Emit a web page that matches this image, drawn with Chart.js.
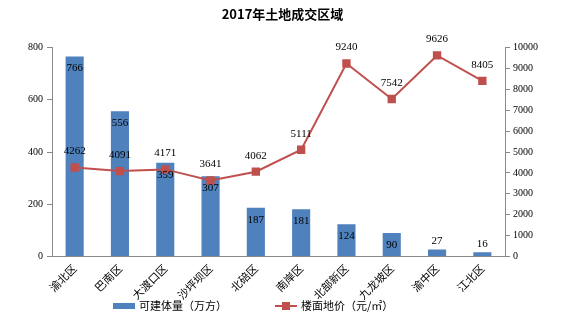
<!DOCTYPE html>
<html>
<head>
<meta charset="utf-8">
<script src="https://cdn.jsdelivr.net/npm/chart.js@4.4.0/dist/chart.umd.min.js"></script>
<style>
  html, body { margin: 0; padding: 0; background: #fff; }
  #wrap { width: 562px; height: 328px; }
</style>
</head>
<body>
<div id="wrap"><canvas id="chart" width="562" height="328"></canvas></div>
<script>
const districts = ['渝北区', '巴南区', '大渡口区', '沙坪坝区', '北碚区', '南岸区', '北部新区', '九龙坡区', '渝中区', '江北区'];
const volume = [766, 556, 359, 307, 187, 181, 124, 90, 27, 16];
const landPrice = [4262, 4091, 4171, 3641, 4062, 5111, 9240, 7542, 9626, 8405];
const leftTicks = [0, 200, 400, 600, 800];
const rightTicks = [0, 1000, 2000, 3000, 4000, 5000, 6000, 7000, 8000, 9000, 10000];

const numFont = '11px "Liberation Serif", "DejaVu Serif", serif';
const cnFont = '"Noto Sans CJK SC", sans-serif';
const barColor = '#4F81BD';
const lineColor = '#C0504D';

// value labels drawn over bars and points
const valueLabels = {
  id: 'valueLabels',
  afterDatasetsDraw(chart) {
    const ctx = chart.ctx;
    ctx.save();
    ctx.font = numFont;
    ctx.fillStyle = '#000';
    ctx.textAlign = 'center';
    ctx.textBaseline = 'middle';
    chart.data.datasets.forEach((ds, d) => {
      const meta = chart.getDatasetMeta(d);
      meta.data.forEach((el, i) => {
        if (ds.type === 'bar') {
          const h = el.base - el.y;
          const y = h > 20 ? el.y + 12 : el.y - 8;
          ctx.fillText(ds.data[i], el.x, y);
        } else {
          ctx.fillText(ds.data[i], el.x, el.y - 16);
        }
      });
    });
    ctx.restore();
  }
};

// legend drawn by hand so the two entries can sit far apart like the original
const bottomLegend = {
  id: 'bottomLegend',
  afterDraw(chart) {
    const ctx = chart.ctx;
    const y = 306;
    const items = chart.data.datasets.filter(ds => ds.type === 'bar').concat(chart.data.datasets.filter(ds => ds.type === 'line'));
    const starts = [113, 275];
    ctx.save();
    ctx.font = '11px ' + cnFont;
    ctx.textBaseline = 'middle';
    ctx.fillStyle = '#000';
    items.forEach((ds, k) => {
      const x = starts[k];
      if (ds.type === 'bar') {
        ctx.fillStyle = barColor;
        ctx.fillRect(x, y - 3, 22, 6);
      } else {
        ctx.strokeStyle = lineColor;
        ctx.lineWidth = 2;
        ctx.beginPath();
        ctx.moveTo(x, y);
        ctx.lineTo(x + 22, y);
        ctx.stroke();
        ctx.fillStyle = lineColor;
        ctx.fillRect(x + 7, y - 4, 8, 8);
      }
      ctx.fillStyle = '#000';
      ctx.fillText(ds.label, x + 26, y);
    });
    ctx.restore();
  }
};

new Chart(document.getElementById('chart'), {
  data: {
    labels: districts,
    datasets: [
      {
        type: 'line',
        label: '楼面地价（元/㎡）',
        data: landPrice,
        yAxisID: 'y1',
        borderColor: lineColor,
        backgroundColor: lineColor,
        borderWidth: 2,
        pointStyle: 'rect',
        pointRadius: 4.5,
        pointBackgroundColor: lineColor,
        pointBorderColor: lineColor,
        order: 0
      },
      {
        type: 'bar',
        label: '可建体量（万方）',
        data: volume,
        yAxisID: 'y',
        backgroundColor: barColor,
        categoryPercentage: 1,
        barPercentage: 0.4,
        order: 1
      }
    ]
  },
  options: {
    responsive: false,
    animation: false,
    layout: { padding: { left: 24, right: 21, top: 0, bottom: 26 } },
    plugins: {
      title: {
        display: true,
        text: '2017年土地成交区域',
        color: '#000',
        font: { family: cnFont, size: 13, weight: 'bold' },
        padding: { top: 6, bottom: 26 }
      },
      legend: { display: false },
      tooltip: { enabled: false }
    },
    scales: {
      x: {
        grid: { display: false, drawTicks: true, tickLength: 5 },
        border: { color: '#888' },
        ticks: {
          color: '#000',
          font: { family: cnFont, size: 11 },
          minRotation: 45,
          maxRotation: 45,
          padding: 0
        }
      },
      y: {
        position: 'left',
        min: 0,
        max: 800,
        afterBuildTicks: axis => { axis.ticks = leftTicks.map(v => ({ value: v })); },
        grid: { display: true, drawOnChartArea: false, tickLength: 5, color: '#888' },
        border: { color: '#888' },
        ticks: { color: '#000', font: { family: 'Liberation Serif', size: 10 }, padding: 4, callback: v => String(v) }
      },
      y1: {
        position: 'right',
        min: 0,
        max: 10000,
        afterBuildTicks: axis => { axis.ticks = rightTicks.map(v => ({ value: v })); },
        grid: { display: true, drawOnChartArea: false, tickLength: 5, color: '#888' },
        border: { color: '#888' },
        ticks: { color: '#000', font: { family: 'Liberation Serif', size: 10 }, padding: 3, callback: v => String(v) }
      }
    }
  },
  plugins: [valueLabels, bottomLegend]
});
</script>
</body>
</html>
